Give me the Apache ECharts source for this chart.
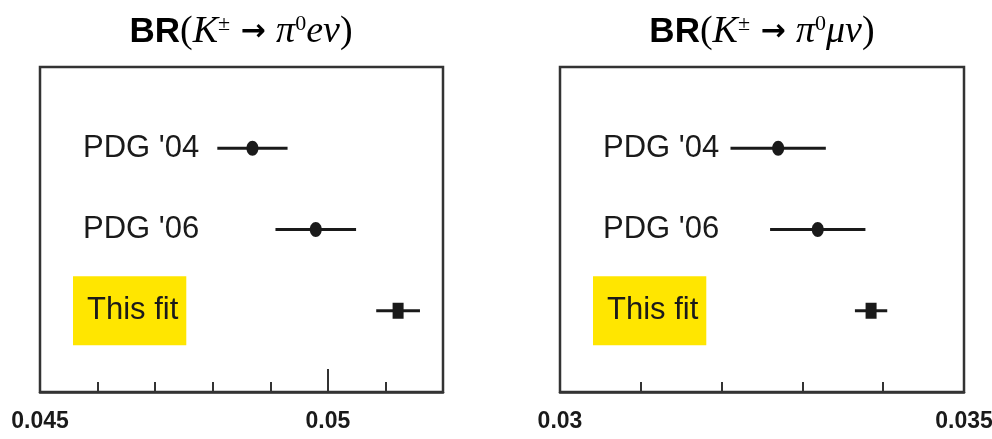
<!DOCTYPE html>
<html>
<head>
<meta charset="utf-8">
<script src="https://cdn.jsdelivr.net/npm/echarts@6/dist/echarts.min.js"></script>
<style>
html, body { margin: 0; background: #fff; }
#chart { width: 992px; height: 439px; }
</style>
</head>
<body>
<div id="chart"></div>
<script>
// rows from bottom to top (y = 1, 2, 3)
var rowLabels = ["This fit", "PDG '06", "PDG '04"];
var isFit = [1, 0, 0];

// BR(K -> pi0 e nu)
var keValues = [0.05122, 0.04979, 0.04869];
var keErrors = [0.00038, 0.00070, 0.00061];
var keTickLabels = ["0.045", "0.05"];

// BR(K -> pi0 mu nu)
var kmuValues = [0.03385, 0.03319, 0.03270];
var kmuErrors = [0.00020, 0.00059, 0.00059];
var kmuTickLabels = ["0.03", "0.035"];

var sans = '"Liberation Sans", Arial, sans-serif';
var serif = '"Liberation Serif", "DejaVu Serif", serif';
var ink = '#1a1a1a';
var frame = '#333';

function rows(values, errors) {
    return values.map(function (v, i) {
        return [v, i + 1, errors[i], isFit[i]];
    });
}

function errBar(params, api) {
    var y = api.value(1);
    var c = api.coord([api.value(0), y]);
    var lo = api.coord([api.value(0) - api.value(2), y]);
    var hi = api.coord([api.value(0) + api.value(2), y]);
    var marker = api.value(3) === 1
        ? { type: 'rect', shape: { x: c[0] - 5.5, y: c[1] - 8, width: 11, height: 16 }, style: { fill: ink } }
        : { type: 'ellipse', shape: { cx: c[0], cy: c[1], rx: 6, ry: 7.5 }, style: { fill: ink } };
    return {
        type: 'group',
        children: [
            { type: 'line', shape: { x1: lo[0], y1: c[1], x2: hi[0], y2: c[1] }, style: { stroke: ink, lineWidth: 3 } },
            marker
        ]
    };
}

function tickFormatter(labels) {
    return function (v) {
        for (var i = 0; i < labels.length; i++) {
            if (Math.abs(parseFloat(labels[i]) - v) < 1e-9) return labels[i];
        }
        return '';
    };
}

function rowFormatter(v) {
    var i = Math.round(v) - 1;
    if (i < 0 || i >= rowLabels.length) return '';
    return isFit[i] ? '{hl|' + rowLabels[i] + '}' : '{n|' + rowLabels[i] + '}';
}

var labelRich = {
    n: { fontFamily: sans, fontSize: 31, lineHeight: 31, color: ink, padding: [0, 0, 0, 10] },
    hl: { fontFamily: sans, fontSize: 31, lineHeight: 31, color: ink, backgroundColor: '#ffe600', padding: [19, 8, 19, 14] }
};

function xAxisBase(grid, min, max, labels) {
    return {
        type: 'value', gridIndex: grid, position: 'bottom', min: min, max: max, interval: 0.001,
        axisLine: { lineStyle: { color: frame, width: 2.5 } },
        axisTick: { inside: true, length: 10, lineStyle: { color: frame, width: 2 } },
        axisLabel: {
            margin: 18, fontFamily: sans, fontWeight: 'bold', fontSize: 23, color: ink,
            showMinLabel: true, showMaxLabel: true, formatter: tickFormatter(labels)
        },
        splitLine: { show: false }
    };
}

function yAxisBase(grid) {
    return {
        type: 'value', gridIndex: grid, min: 0, max: 4, interval: 1,
        axisLine: { show: false }, axisTick: { show: false }, splitLine: { show: false },
        axisLabel: { inside: true, margin: 33, formatter: rowFormatter, rich: labelRich }
    };
}

var titleRich = {
    b: { fontFamily: sans, fontWeight: 'bold', fontSize: 35, color: ink },
    p: { fontFamily: serif, fontSize: 38, color: ink },
    i: { fontFamily: serif, fontStyle: 'italic', fontSize: 38, color: ink },
    s: { fontFamily: serif, fontSize: 22, color: ink, verticalAlign: 'top' },
    o: { fontFamily: '"DejaVu Sans", sans-serif', fontWeight: 'bold', fontSize: 30, color: ink }
};

var chart = echarts.init(document.getElementById('chart'));
chart.setOption({
    animation: false,
    graphic: [
        { type: 'text', x: 241, y: 32, style: { text: '{b|BR}{p|(}{i|K}{s|±}{o| → }{i|π}{s|0}{i|eν}{p|)}', rich: titleRich, align: 'center', verticalAlign: 'middle' } },
        { type: 'text', x: 762, y: 32, style: { text: '{b|BR}{p|(}{i|K}{s|±}{o| → }{i|π}{s|0}{i|μν}{p|)}', rich: titleRich, align: 'center', verticalAlign: 'middle' } }
    ],
    grid: [
        { left: 40, right: 549, top: 67, bottom: 47, outerBoundsMode: 'none', show: true, borderColor: frame, borderWidth: 2.5, backgroundColor: '#fff' },
        { left: 560, right: 28, top: 67, bottom: 47, outerBoundsMode: 'none', show: true, borderColor: frame, borderWidth: 2.5, backgroundColor: '#fff' }
    ],
    xAxis: [
        xAxisBase(0, 0.045, 0.052, keTickLabels),
        xAxisBase(1, 0.030, 0.035, kmuTickLabels),
        {
            // long tick at 0.05
            type: 'value', gridIndex: 0, position: 'bottom', min: 0.045, max: 0.052, interval: 0.005,
            axisLine: { show: false }, axisLabel: { show: false }, splitLine: { show: false },
            axisTick: { inside: true, length: 23, lineStyle: { color: frame, width: 2 } }
        }
    ],
    yAxis: [yAxisBase(0), yAxisBase(1)],
    series: [
        { type: 'custom', xAxisIndex: 0, yAxisIndex: 0, renderItem: errBar, data: rows(keValues, keErrors) },
        { type: 'custom', xAxisIndex: 1, yAxisIndex: 1, renderItem: errBar, data: rows(kmuValues, kmuErrors) }
    ]
});
</script>
</body>
</html>
